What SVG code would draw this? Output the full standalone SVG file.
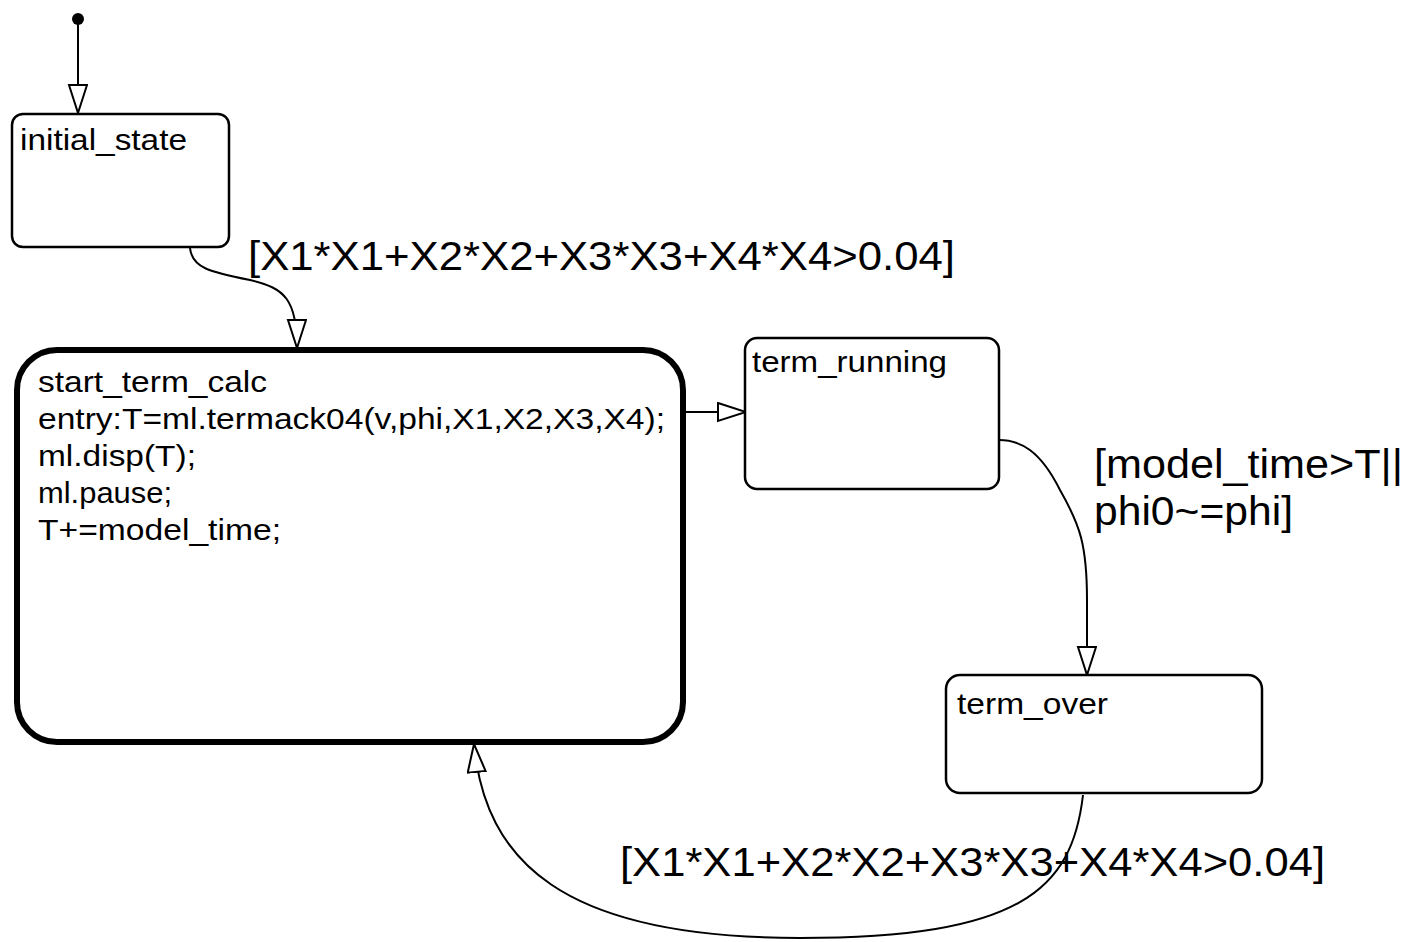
<svg xmlns="http://www.w3.org/2000/svg" width="1403" height="942" viewBox="0 0 1403 942">
<style>
.st{fill:#fff;stroke:#000;stroke-width:2.5}
.big{fill:#fff;stroke:#000;stroke-width:6}
.t{font-family:"Liberation Sans",Arial,sans-serif;font-size:29px;fill:#000}
.lbl{font-family:"Liberation Sans",Arial,sans-serif;font-size:40px;fill:#000}
.c{fill:none;stroke:#000;stroke-width:2}
</style>
<defs>
<marker id="ah" markerUnits="userSpaceOnUse" markerWidth="32" markerHeight="24" refX="29" refY="10" orient="auto" viewBox="0 0 32 24">
<path d="M1,1 L29,10 L1,19 Z" fill="#fff" stroke="#000" stroke-width="2"/>
</marker>
</defs>
<g id="connectors">
<circle cx="78" cy="19" r="6" fill="#000"/>
<path class="c" d="M78 19 L78 113" marker-end="url(#ah)"/>
<path class="c" d="M190 248 C192 268, 210 272, 250 280 C285 288, 297 300, 297 348" marker-end="url(#ah)"/>
<path class="c" d="M685 412 L746 412" marker-end="url(#ah)"/>
<path class="c" d="M999 440 C1020 440, 1040 450, 1060 490 C1080 525, 1087 545, 1087 600 L1087 675" marker-end="url(#ah)"/>
<path class="c" d="M1083 795 C1072 890, 1020 938, 800 938 C560 938, 485 860, 474 744" marker-end="url(#ah)"/>
</g>
<g id="initial_state">
<rect class="st" x="12" y="114" width="217" height="133" rx="11"/>
<text class="t" x="20" y="150" textLength="167" lengthAdjust="spacingAndGlyphs">initial_state</text>
</g>
<g id="start_term_calc">
<rect class="big" x="17" y="350" width="666" height="392" rx="40"/>
<text class="t" x="38" y="392" textLength="229" lengthAdjust="spacingAndGlyphs">start_term_calc</text>
<text class="t" x="38" y="429" textLength="627" lengthAdjust="spacingAndGlyphs">entry:T=ml.termack04(v,phi,X1,X2,X3,X4);</text>
<text class="t" x="38" y="466" textLength="158" lengthAdjust="spacingAndGlyphs">ml.disp(T);</text>
<text class="t" x="38" y="503" textLength="134" lengthAdjust="spacingAndGlyphs">ml.pause;</text>
<text class="t" x="38" y="540" textLength="243" lengthAdjust="spacingAndGlyphs">T+=model_time;</text>
</g>
<g id="term_running">
<rect class="st" x="745" y="338" width="254" height="151" rx="12"/>
<text class="t" x="752" y="372" textLength="195" lengthAdjust="spacingAndGlyphs">term_running</text>
</g>
<g id="term_over">
<rect class="st" x="946" y="675" width="316" height="118" rx="14"/>
<text class="t" x="957" y="714" textLength="151" lengthAdjust="spacingAndGlyphs">term_over</text>
</g>
<g id="labels">
<text class="lbl" x="248" y="270" textLength="707" lengthAdjust="spacingAndGlyphs">[X1*X1+X2*X2+X3*X3+X4*X4&gt;0.04]</text>
<text class="lbl" x="1094" y="478" textLength="309" lengthAdjust="spacingAndGlyphs">[model_time&gt;T||</text>
<text class="lbl" x="1094" y="525" textLength="199" lengthAdjust="spacingAndGlyphs">phi0~=phi]</text>
<text class="lbl" x="620" y="876" textLength="705" lengthAdjust="spacingAndGlyphs">[X1*X1+X2*X2+X3*X3+X4*X4&gt;0.04]</text>
</g>
</svg>
